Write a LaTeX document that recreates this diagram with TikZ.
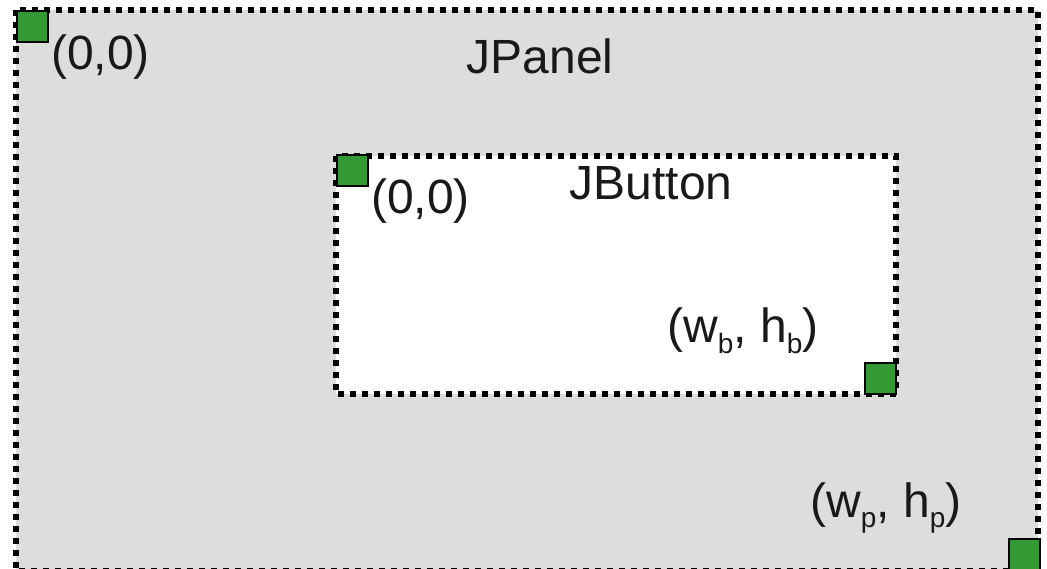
\documentclass[tikz,border=0pt]{standalone}
\usepackage{fontspec}
\setmainfont{Liberation Sans}
\newcommand\subsc[1]{\raisebox{-0.22em}{\fontsize{28}{28}\selectfont #1}}
\begin{document}
\begin{tikzpicture}[x=1pt,y=-1pt,
  frame/.style={draw=black,line width=5.5pt,dash pattern=on 6pt off 6pt},
  corner/.style={draw=black,line width=2pt,fill=cgreen,minimum size=31pt,inner sep=0pt,outer sep=0pt},
  lbl/.style={font=\fontsize{48}{52}\selectfont,inner sep=0pt,text=black!90}]
\definecolor{cgreen}{HTML}{339933}
\definecolor{cpanel}{HTML}{DDDDDD}
\useasboundingbox (0,0) rectangle (1047,569);
\begin{scope}
\clip (0,0) rectangle (1047,569);
\fill[cpanel] (16,10) rectangle (1038,571);
\draw[frame] (16,10) rectangle (1038,571);
\end{scope}
\fill[white] (336,156) rectangle (896,394);
\draw[frame] (336,156) rectangle (896,394);
\node[corner] (pTL) at (32,27) {};
\node[corner] (bTL) at (352,171) {};
\node[corner] (bBR) at (880,378) {};
\node[corner] (pBR) at (1024,554) {};
\node[lbl,anchor=west] (p00) at (51,57) {(0,0)};
\node[lbl] (jpanel) at (540,56) {JPanel};
\node[lbl,anchor=west] (b00) at (371,201) {(0,0)};
\node[lbl] (jbutton) at (651,183) {JButton};
\node[lbl,anchor=west] (wbhb) at (667,331) {(w\subsc{b}, h\subsc{b})};
\node[lbl,anchor=west] (wphp) at (810,508) {(w\subsc{p}, h\subsc{p})};
\end{tikzpicture}
\end{document}
